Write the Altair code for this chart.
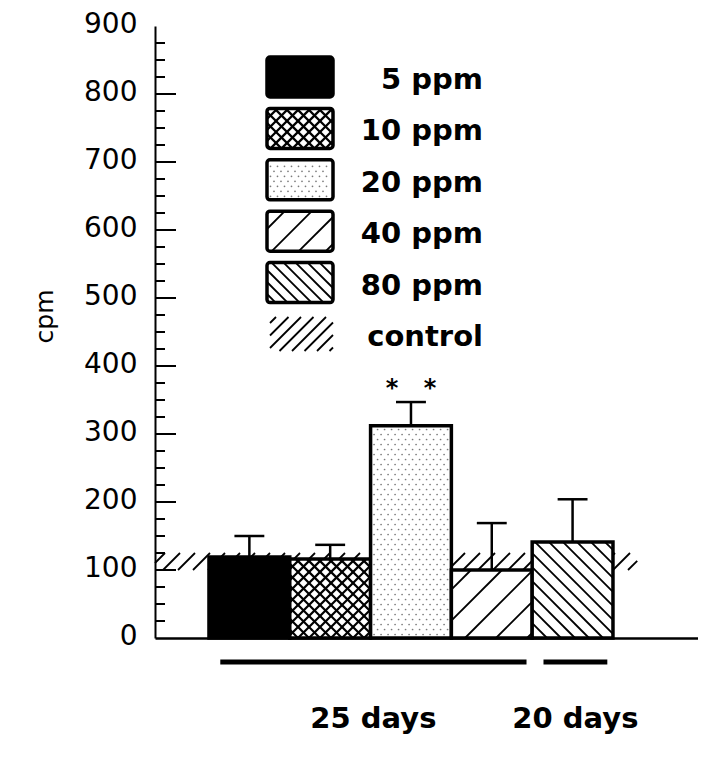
import altair as alt
import numpy as np
import pandas as pd

# ---------------- data ----------------
CATEGORIES = ["5 ppm", "10 ppm", "20 ppm", "40 ppm", "80 ppm"]
MEANS = [119, 116, 312, 100, 141]
UPPER = [150, 137, 347, 169, 204]
STARS = [0, 0, 2, 0, 0]
PATTERNS = ["solid", "cross", "dots", "fwd", "back"]
CONTROL_LOW, CONTROL_HIGH = 100, 125
PERIOD_LABELS = ["25 days", "20 days"]
PERIOD_FIRST_BAR = [0, 4]
PERIOD_LAST_BAR = [3, 4]
LEGEND_LABELS = ["5 ppm", "10 ppm", "20 ppm", "40 ppm", "80 ppm", "control"]
LEGEND_PATTERNS = ["solid", "cross", "dots", "fwd", "back", "control"]
Y_LABEL_VALUES = list(range(0, 901, 100))
Y_MINOR_STEP = 25

# -------------- geometry / layout --------------
W, H = 543, 612
PX_X = 80.8                     # pixels per bar slot
XMIN = -0.668
XMAX = XMIN + W / PX_X
YMAX = 900
PX_Y = H / YMAX
CONTROL_END = 5.3               # right end of control band (bar slots)
FONT = "DejaVu Sans"

BAR_STYLE = {"cross": (11, 2.2), "fwd": (31, 1.8), "back": (14, 1.8), "control": (15, 1.8)}
LEG_STYLE = {"cross": (11, 2.2), "fwd": (27, 1.8), "back": (12, 1.8), "control": (12.5, 1.8)}

LEG_LEFT, LEG_RIGHT = 112, 178          # px from plot left
LEG_TOP, LEG_H, LEG_STEP = 31, 40, 51.4 # px from plot top
LEG_LABEL_RIGHT = 328


def to_u(x): return (x - XMIN) * PX_X
def to_v(y): return y * PX_Y
def from_u(u): return XMIN + u / PX_X
def from_v(v): return v / PX_Y


def hatch(x0, x1, y0, y1, spacing, width, direction, phase=0.0):
    u0, u1, v0, v1 = to_u(x0), to_u(x1), to_v(y0), to_v(y1)
    segs = []
    if direction == "fwd":
        lo, hi = v0 - u1, v1 - u0
    else:
        lo, hi = u0 + v0, u1 + v1
    k = np.floor((lo - phase) / spacing)
    while True:
        c = k * spacing + phase
        if c > hi:
            break
        if direction == "fwd":
            us, ue = max(u0, v0 - c), min(u1, v1 - c)
            p, q = (us, us + c), (ue, ue + c)
        else:
            us, ue = max(u0, c - v1), min(u1, c - v0)
            p, q = (us, c - us), (ue, c - ue)
        if ue - us > 0.8:
            segs.append(dict(x=from_u(p[0]), y=from_v(p[1]),
                             x2=from_u(q[0]), y2=from_v(q[1]), w=width))
        k += 1
    return segs


def dots(x0, x1, y0, y1, dx=7.0, dy=5.0, inset=3.5):
    u0, u1, v0, v1 = to_u(x0), to_u(x1), to_v(y0), to_v(y1)
    pts = []
    r = 0
    v = v0 + inset
    while v <= v1 - inset:
        u = u0 + inset + (dx / 2 if r % 2 else 0)
        while u <= u1 - inset:
            pts.append(dict(x=from_u(u), y=from_v(v)))
            u += dx
        v += dy
        r += 1
    return pts


def pattern_marks(kind, x0, x1, y0, y1, style):
    segs, pts = [], []
    if kind == "cross":
        sp, w = style["cross"]
        segs += hatch(x0, x1, y0, y1, sp, w, "fwd")
        segs += hatch(x0, x1, y0, y1, sp, w, "back")
    elif kind in ("fwd", "control"):
        sp, w = style[kind]
        segs += hatch(x0, x1, y0, y1, sp, w, "fwd")
    elif kind == "back":
        sp, w = style["back"]
        segs += hatch(x0, x1, y0, y1, sp, w, "back")
    elif kind == "dots":
        pts += dots(x0, x1, y0, y1)
    return segs, pts


# ---------------- tables ----------------
bars = pd.DataFrame({
    "cat": CATEGORIES,
    "x0": [i for i in range(len(CATEGORIES))],
    "x1": [i + 1 for i in range(len(CATEGORIES))],
    "y0": [0] * len(CATEGORIES),
    "y1": MEANS,
    "up": UPPER,
    "xc": [i + 0.5 for i in range(len(CATEGORIES))],
    "fill": ["black" if p == "solid" else "white" for p in PATTERNS],
})
bars["cap0"] = bars["xc"] - 0.185
bars["cap1"] = bars["xc"] + 0.185

seg_rows, dot_rows = [], []
for i, kind in enumerate(PATTERNS):
    s, p = pattern_marks(kind, i, i + 1, 0, MEANS[i], BAR_STYLE)
    seg_rows += s
    dot_rows += p

band_rows = hatch(XMIN, CONTROL_END, CONTROL_LOW, CONTROL_HIGH,
                  BAR_STYLE["control"][0], BAR_STYLE["control"][1], "fwd")

leg_rows, leg_text = [], []
for r, (lab, kind) in enumerate(zip(LEGEND_LABELS, LEGEND_PATTERNS)):
    top = LEG_TOP + r * LEG_STEP
    x0, x1 = from_u(LEG_LEFT), from_u(LEG_RIGHT)
    y1, y0 = from_v(H - top), from_v(H - top - LEG_H)
    if kind == "control":
        y1, y0 = from_v(H - top - 3), from_v(H - top - LEG_H + 3)
        x0 = from_u(LEG_LEFT + 3)
    s, p = pattern_marks(kind, x0, x1, y0, y1, LEG_STYLE)
    seg_rows += s
    dot_rows += p
    if kind != "control":
        leg_rows.append(dict(x0=x0, x1=x1, y0=y0, y1=y1,
                             fill="black" if kind == "solid" else "white"))
    leg_text.append(dict(label=lab, x=from_u(LEG_LABEL_RIGHT),
                         y=from_v(H - top - LEG_H / 2 - 12)))

stars = []
for i, n in enumerate(STARS):
    if n == 2:
        for off in (-0.235, 0.235):
            stars.append(dict(x=i + 0.5 + off, y=UPPER[i], t="*"))

periods = pd.DataFrame({
    "label": PERIOD_LABELS,
    "x0": [f + 0.14 for f in PERIOD_FIRST_BAR],
    "x1": [l + 1 - 0.07 for l in PERIOD_LAST_BAR],
})
periods["xc"] = (periods["x0"] + periods["x1"]) / 2

ticks = pd.DataFrame({"v": list(range(Y_MINOR_STEP, YMAX, Y_MINOR_STEP))})
ticks["major"] = ticks["v"] % 100 == 0

# ---------------- encodings ----------------
XS = alt.Scale(domain=[XMIN, XMAX], nice=False, zero=False)
YS = alt.Scale(domain=[0, YMAX], nice=False, zero=False)

Y_AXIS = alt.Axis(values=Y_LABEL_VALUES, ticks=False, grid=False,
                  domainColor="black", domainWidth=2,
                  labelFont=FONT, labelFontSize=28, labelColor="black",
                  labelPadding=18, labelOffset=-2,
                  title="cpm", titleFont=FONT, titleFontSize=25,
                  titleFontWeight="normal", titleColor="black",
                  titleX=-103, titleY=290, titleAngle=270,
                  titleBaseline="alphabetic", titleAlign="center", zindex=1)
X_AXIS = alt.Axis(labels=False, ticks=False, grid=False, domainColor="black",
                  domainWidth=2.5, title="", zindex=1)


def X(f):
    return alt.X(f, type="quantitative", scale=XS, axis=X_AXIS)


def Y(f):
    return alt.Y(f, type="quantitative", scale=YS, axis=Y_AXIS)


band = alt.Chart(pd.DataFrame(band_rows)).mark_rule(color="black").encode(
    x=X("x"), y=Y("y"), x2="x2", y2="y2",
    strokeWidth=alt.StrokeWidth("w:Q", scale=None))

bar_layer = alt.Chart(bars).mark_rect(stroke="black", strokeWidth=3.5).encode(
    x=X("x0"), x2="x1", y=Y("y0"), y2="y1",
    fill=alt.Fill("fill:N", scale=None))

leg_rect = alt.Chart(pd.DataFrame(leg_rows)).mark_rect(
    stroke="black", strokeWidth=3.5, cornerRadius=3).encode(
    x=X("x0"), x2="x1", y=Y("y0"), y2="y1",
    fill=alt.Fill("fill:N", scale=None))

pat = alt.Chart(pd.DataFrame(seg_rows)).mark_rule(color="black").encode(
    x=X("x"), y=Y("y"), x2="x2", y2="y2",
    strokeWidth=alt.StrokeWidth("w:Q", scale=None))

dot_layer = alt.Chart(pd.DataFrame(dot_rows)).mark_circle(
    color="#7a7a7a", size=3, opacity=1).encode(x=X("x"), y=Y("y"))

stems = alt.Chart(bars).mark_rule(color="black", strokeWidth=2.5).encode(
    x=X("xc"), y=Y("y1"), y2="up")
caps = alt.Chart(bars).mark_rule(color="black", strokeWidth=2.5).encode(
    x=X("cap0"), x2="cap1", y=Y("up"))

star_layer = alt.Chart(pd.DataFrame(stars)).mark_text(
    font=FONT, fontSize=24, fontWeight="bold", color="black",
    baseline="alphabetic", dy=-6).encode(x=X("x"), y=Y("y"), text="t:N")

major = alt.Chart(ticks).transform_filter("datum.major").mark_rule(
    color="black", strokeWidth=2).encode(
    x=alt.value(0), x2=alt.value(21), y=Y("v"))
minor = alt.Chart(ticks).transform_filter("!datum.major").mark_rule(
    color="black", strokeWidth=2).encode(
    x=alt.value(0), x2=alt.value(10), y=Y("v"))

leg_labels = alt.Chart(pd.DataFrame(leg_text)).mark_text(
    font=FONT, fontSize=29, fontWeight="bold", color="black",
    align="right", baseline="alphabetic").encode(
    x=X("x"), y=Y("y"), text="label:N")

brackets = alt.Chart(periods).mark_rule(color="black", strokeWidth=5).encode(
    x=X("x0"), x2="x1", y=alt.value(636))
period_text = alt.Chart(periods).mark_text(
    font=FONT, fontSize=29, fontWeight="bold", color="black",
    align="center", baseline="alphabetic").encode(
    x=X("xc"), y=alt.value(702), text="label:N")

chart = alt.layer(
    band, bar_layer, leg_rect, pat, dot_layer, stems, caps,
    star_layer, major, minor, leg_labels, brackets, period_text
).properties(
    width=W, height=H,
    padding={"left": 147, "top": 18, "right": 0, "bottom": 118},
    autosize=alt.AutoSizeParams(type="none"),
    background="white",
).configure_view(strokeWidth=0)

chart.save("out.html", embed_options={"renderer": "svg", "actions": False})
